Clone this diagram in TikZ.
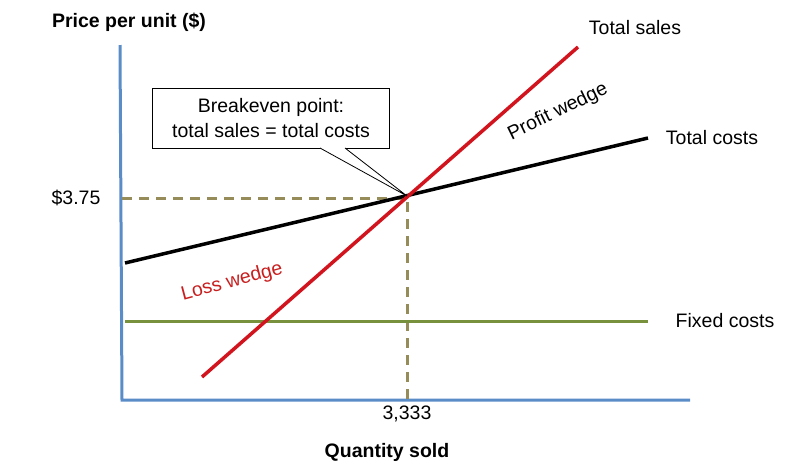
\documentclass[tikz,border=0pt]{standalone}
\usepackage{fontspec}
\setmainfont{Liberation Sans}
\begin{document}
\begin{tikzpicture}[x=1pt,y=-1pt,
  lbl/.style={font=\fontsize{19.5}{22}\selectfont, inner sep=1pt},
  axis/.style={draw={rgb,255:red,90;green,140;blue,200}, line width=3pt},
  guide/.style={draw={rgb,255:red,150;green,140;blue,90}, line width=3pt, dash pattern=on 10pt off 7pt}]
\useasboundingbox (0,0) rectangle (800,467);
\coordinate (ytop) at (120,45);
\coordinate (orig) at (122,400);
\coordinate (xend) at (690,400);
\draw[axis] (ytop) -- (orig) -- (xend);
\coordinate (be) at (407,196);
\coordinate (yl) at (122,198);
\coordinate (xl) at (407,400);
\draw[guide] (yl) -- (407,198) -- (xl);
\coordinate (fc1) at (125,321);
\coordinate (fc2) at (648,321);
\draw[line width=3pt, draw={rgb,255:red,120;green,145;blue,60}] (fc1) -- (fc2);
\coordinate (tc1) at (125,263);
\coordinate (tc2) at (648,138);
\draw[line width=3.5pt] (tc1) -- (tc2);
\coordinate (ts1) at (202,377);
\coordinate (ts2) at (578,47);
\draw[line width=3.5pt, draw={rgb,255:red,210;green,20;blue,30}] (ts1) -- (ts2);
\node[draw, fill=white, line width=0.8pt, minimum width=237pt, minimum height=60pt, align=center, lbl, font=\fontsize{19.5}{25}\selectfont] (box) at (271,118) {Breakeven point:\\total sales = total costs};
\coordinate (p1) at (320,148);
\coordinate (p2) at (345,148);
\draw[fill=white, line width=0.8pt] (p1) -- (be) -- (p2);
\node[lbl, font=\bfseries\fontsize{19.5}{22}\selectfont] (ylab) at (129,22) {Price per unit (\$)};
\node[lbl, font=\bfseries\fontsize{19.5}{22}\selectfont] (xlab) at (387,452) {Quantity sold};
\node[lbl] (tsl) at (635,28) {Total sales};
\node[lbl] (tcl) at (712,138) {Total costs};
\node[lbl] (fcl) at (725,321) {Fixed costs};
\node[lbl] (pv) at (76,198) {\$3.75};
\node[lbl] (qv) at (407,414) {3,333};
\node[lbl, rotate=26] (pw) at (558,112) {Profit wedge};
\node[lbl, rotate=15, text={rgb,255:red,200;green,30;blue,30}] (lw) at (232,282) {Loss wedge};
\end{tikzpicture}
\end{document}
